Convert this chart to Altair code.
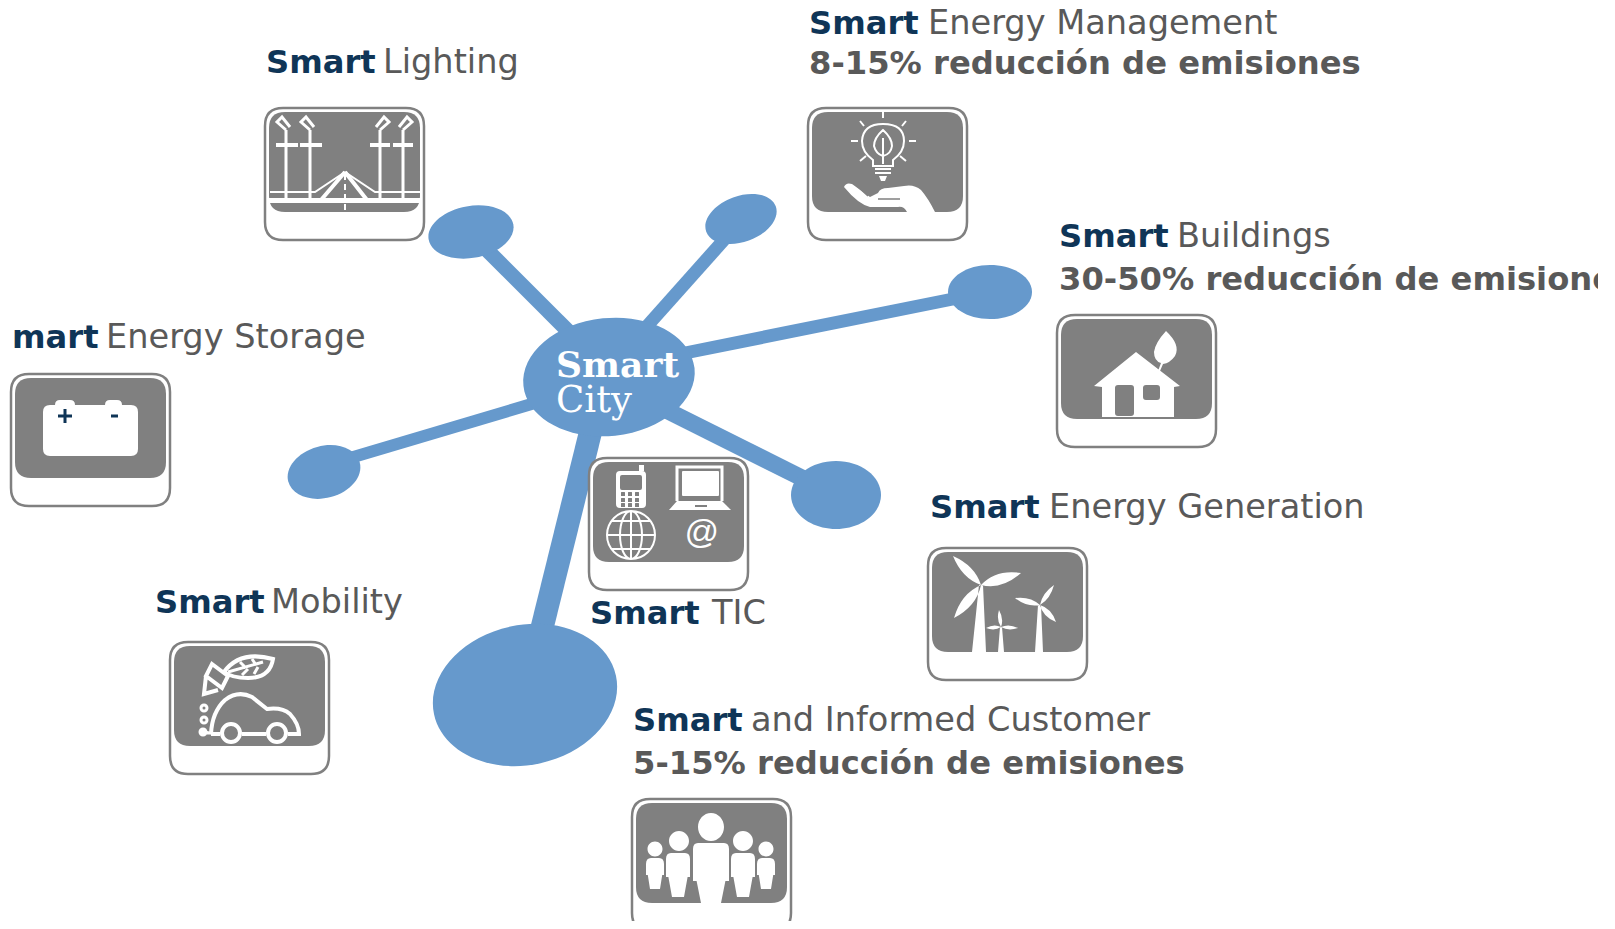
import altair as alt
import pandas as pd

BLUE = "#6699CC"
GRAY = "#808080"
NAVY = "#0F3557"
TEXT = "#595959"

# ---------- content ----------
bold_labels = ["Smart", "Smart", "Smart", "mart", "Smart", "Smart", "Smart", "Smart"]
bold_x = [266, 809, 1059, 12, 155, 930, 590, 633]
bold_y = [73, 34, 247, 348, 613, 518, 624, 731]

plain_labels = ["Lighting", "Energy Management", "Buildings", "Energy Storage",
                "Mobility", "Energy Generation", "TIC", "and Informed Customer"]
plain_x = [383, 928, 1177, 106, 271, 1049, 712, 751]

note_labels = ["8-15% reducción de emisiones", "30-50% reducción de emisiones",
               "5-15% reducción de emisiones"]
note_x = [809, 1059, 633]
note_y = [74, 290, 774]

hub_x, hub_y, hub_rx, hub_ry, hub_tilt = [609], [377], [86], [59], [354]
node_x = [471, 741, 990, 836, 525, 324]
node_y = [232, 219, 292, 495, 695, 472]
node_rx = [43, 37, 42, 45, 93, 37]
node_ry = [26, 23, 27, 34, 70, 26]
node_tilt = [350, 340, 0, 0, 348, 345]

spoke_x1 = [484, 731, 953, 814, 539, 350]
spoke_y1 = [247, 232, 299, 484, 640, 458]
spoke_x2 = [585, 640, 680, 650, 594, 545]
spoke_y2 = [348, 334, 354, 402, 418, 400]
spoke_w = [15, 13, 13, 17, 23, 12]

card_names = ["lighting", "management", "buildings", "storage", "tic", "generation", "mobility", "customer"]
card_x = [265, 808, 1057, 11, 589, 928, 170, 632]
card_y = [108, 108, 315, 374, 458, 548, 642, 799]


# ---------- glyph helpers (local px inside a 159x132 card) ----------
def rrect(x0, y0, x1, y1, r):
    return (f"M{x0+r},{y0}L{x1-r},{y0}Q{x1},{y0} {x1},{y0+r}L{x1},{y1-r}Q{x1},{y1} {x1-r},{y1}"
            f"L{x0+r},{y1}Q{x0},{y1} {x0},{y1-r}L{x0},{y0+r}Q{x0},{y0} {x0+r},{y0}Z")


def ell(cx, cy, rx, ry=None):
    ry = rx if ry is None else ry
    return f"M{cx-rx},{cy}A{rx},{ry} 0 1 1 {cx+rx},{cy}A{rx},{ry} 0 1 1 {cx-rx},{cy}Z"


def blade(hx, hy, tx, ty, w):
    mx, my = hx * .55 + tx * .45, hy * .55 + ty * .45
    dx, dy = tx - hx, ty - hy
    n = (dx * dx + dy * dy) ** .5
    px, py = -dy / n * w, dx / n * w
    return f"M{hx},{hy}Q{mx+px:.1f},{my+py:.1f} {tx},{ty}Q{mx-px:.1f},{my-py:.1f} {hx},{hy}Z"


def person(cx, top, half, bottom, leg):
    mid = top + (bottom - top) * .55
    return (f"M{cx-half+5},{top}L{cx+half-5},{top}Q{cx+half},{top} {cx+half},{top+6}L{cx+half},{mid:.0f}"
            f"L{cx+half*.8:.1f},{mid:.0f}L{cx+leg},{bottom}L{cx-leg},{bottom}"
            f"L{cx-half*.8:.1f},{mid:.0f}L{cx-half},{mid:.0f}L{cx-half},{top+6}"
            f"Q{cx-half},{top} {cx-half+5},{top}Z")


card_outline = rrect(0, 0, 159, 132, 18)
card_panel = rrect(4, 4, 155, 104, 16)

white_fill = {
    "lighting": "M2,90L156,90L156,95L2,95Z",
    "management": ("M36,79Q38,74 44,76L62,89L70,85Q72,80 80,80L96,78Q106,76 113,82Q120,90 127,104"
                   "L99,104Q96,98 90,99L62,99Q50,96 36,79Z"
                   "M67,60L83,60L83,62L67,62Z M67,64L83,64L83,66L67,66Z M71,68L79,68L77,73L73,73Z"),
    "buildings": ("M79,37L123,71L117,72L117,102L45,102L45,72L37,71Z"
                  "M109,16Q124,30 118,41Q113,48 106,49L103,56L101,56L104,48Q97,46 97,37Q98,28 109,16Z"),
    "storage": rrect(32, 31, 127, 82, 7) + rrect(44, 26, 64, 36, 5) + rrect(94, 26, 111, 36, 5),
    "tic": (rrect(27, 13, 57, 50, 4) + "M50,13L50,7L55,7L55,13Z"
            + "M80,52L88,43L133,43L142,52Z" + rrect(93, 13, 130, 38, 1)),
    "generation": (blade(53, 37, 25, 8, 9) + blade(53, 37, 93, 25, 11) + blade(53, 37, 26, 70, 10)
                   + "M51,37L55,37L58,104L44,104Z"
                   + blade(112, 57, 87, 50, 6) + blade(112, 57, 126, 37, 5) + blade(112, 57, 128, 74, 6)
                   + "M110,57L113,57L115,104L107,104Z"
                   + blade(73, 79, 71, 62, 4) + blade(73, 79, 58, 80, 4) + blade(73, 79, 90, 80, 4)
                   + "M72,79L74,79L76,104L70,104Z"),
    "mobility": ell(33, 90, 4.5) + "M33,88L46,91L46,93L33,92Z",
    "customer": (ell(79, 28, 13, 14) + ell(47, 42, 10) + ell(111, 42, 10) + ell(23, 50, 7.5) + ell(134, 50, 7.5)
                 + person(79, 44, 18, 114, 8) + person(46, 54, 12, 98, 6) + person(111, 54, 12, 98, 6)
                 + person(23, 59, 9, 90, 5) + person(134, 59, 9, 90, 5)),
}

gray_fill = {
    "buildings": rrect(58, 70, 77, 101, 3) + rrect(86, 70, 103, 85, 3),
    "tic": (rrect(31, 17, 53, 32, 2)
            + "".join(rrect(x, y, x + 4, y + 4, .5) for x in (32, 39, 46) for y in (34, 40, 45))
            + "M106,47L118,47L118,49L106,49Z"),
}

thick_stroke = {
    "lighting": "M11,37L33,37M35,37L57,37M105,37L125,37M128,37L148,37M80,64L56,92M80,64L102,92",
    "mobility": ("M41,92Q42,70 55,58Q68,48 82,55L97,67Q112,65 120,72Q129,82 129,92L118,92M96,92L72,92M50,92L41,92"
                 + ell(61, 91, 9) + ell(107, 91, 9)
                 + "M54,30Q70,8 103,17Q100,36 78,36Q62,36 54,30ZM42,22L58,34L52,46L36,34ZM36,34L34,52L48,48"),
}

white_stroke = {
    "lighting": ("M21,22L21,90M45,22L45,90M115,22L115,90M138,22L138,90"
                 "M21,22L12,14L17,9L25,19M45,22L36,14L41,9L49,19M115,22L124,14L119,9L111,19M138,22L147,14L142,9L134,19"),
    "mobility": "M58,30L93,20M70,20L76,26M82,17L86,23M72,33L78,27M84,32L88,25" + ell(34, 66, 3) + ell(34, 78, 3),
    "tic": "M88,43L88,9L133,9L133,43",
}

thin_stroke = {
    "lighting": "M80,64L50,84L5,84M80,64L110,84L155,84",
    "management": ("M75,4L75,10M52,13L56,18M98,13L94,18M43,33L50,33M101,33L108,33M52,53L58,48M98,53L92,48"
                   "M65,58L65,52Q54,44 54,33Q55,16 75,16Q96,16 96,33Q96,44 85,52L85,58Z"
                   "M75,22Q66,30 66,38Q68,46 75,48Q83,46 84,38Q84,30 75,22ZM75,30L75,56"),
    "tic": (ell(42, 77, 24) + ell(42, 77, 11, 24) + "M42,53L42,101M18,77L66,77M23,63L61,63M23,91L61,91"),
}

dash_stroke = {"lighting": "M80,66L80,103"}
slit_stroke = {"management": "M48,77L60,88M70,91L92,91"}
navy_stroke = {"storage": "M47,42L61,42M54,35L54,49M100,42L107,42"}
flat = lambda d: pd.DataFrame({
    "x": [card_x[card_names.index(k)] for k in d],
    "y": [card_y[card_names.index(k)] for k in d],
    "path": list(d.values()),
})

X = alt.X("x:Q", scale=alt.Scale(domain=[8, 1607], nice=False, zero=False), axis=None)
Y = alt.Y("y:Q", scale=alt.Scale(domain=[921, 8], nice=False, zero=False), axis=None)
SHAPE = alt.Shape("path:N", scale=None, legend=None)


def glyphs(d, color, filled=True, width=0, dash=None):
    kw = dict(filled=filled, size=4, opacity=1)
    if filled:
        kw["fill"] = color
        kw["strokeWidth"] = 0
    else:
        kw["stroke"] = color
        kw["strokeWidth"] = width
        kw["fill"] = "transparent"
        if dash:
            kw["strokeDash"] = dash
    return alt.Chart(flat(d)).mark_point(**kw).encode(x=X, y=Y, shape=SHAPE)


def label(xs, ys, texts, color, font, size, weight="normal", style="normal"):
    df = pd.DataFrame({"x": xs, "y": ys, "t": texts})
    return alt.Chart(df).mark_text(align="left", baseline="alphabetic", font=font, fontSize=size,
                                   fontWeight=weight, fontStyle=style, color=color).encode(x=X, y=Y, text="t:N")


spokes = alt.Chart(pd.DataFrame({"x": spoke_x1, "y": spoke_y1, "x2": spoke_x2, "y2": spoke_y2, "w": spoke_w})).mark_rule(
    color=BLUE).encode(x=X, y=Y, x2="x2:Q", y2="y2:Q", strokeWidth=alt.StrokeWidth("w:Q", scale=None, legend=None))


def blobs(xs, ys, rxs, rys, tilts):
    df = pd.DataFrame({"x": xs, "y": ys, "a": tilts,
                       "path": [ell(0, 0, a, b) for a, b in zip(rxs, rys)]})
    return alt.Chart(df).mark_point(filled=True, size=4, opacity=1, fill=BLUE, strokeWidth=0).encode(
        x=X, y=Y, shape=SHAPE, angle=alt.Angle("a:Q", scale=None))


cards = pd.DataFrame({"x": card_x, "y": card_y, "outline": [card_outline] * 8, "panel": [card_panel] * 8})
card_back = alt.Chart(cards).mark_point(filled=False, size=4, opacity=1, fill="white", stroke=GRAY, strokeWidth=2.5).encode(
    x=X, y=Y, shape=alt.Shape("outline:N", scale=None, legend=None))
card_front = alt.Chart(cards).mark_point(filled=True, size=4, opacity=1, fill=GRAY, strokeWidth=0).encode(
    x=X, y=Y, shape=alt.Shape("panel:N", scale=None, legend=None))

edge_mask = alt.Chart(pd.DataFrame({"x": [1598], "x2": [1607], "y": [250], "y2": [300]})).mark_rect(color="white").encode(
    x=X, x2="x2:Q", y=Y, y2="y2:Q")

chart = alt.layer(
    spokes,
    blobs(node_x, node_y, node_rx, node_ry, node_tilt),
    blobs(hub_x, hub_y, hub_rx, hub_ry, hub_tilt),
    card_back, card_front,
    glyphs(white_fill, "white"),
    glyphs(gray_fill, GRAY),
    glyphs(thick_stroke, "white", filled=False, width=4),
    glyphs(white_stroke, "white", filled=False, width=3),
    glyphs(thin_stroke, "white", filled=False, width=2),
    glyphs(dash_stroke, "white", filled=False, width=2, dash=[6, 4]),
    glyphs(slit_stroke, GRAY, filled=False, width=1.5),
    glyphs(navy_stroke, NAVY, filled=False, width=3),
    label([684], [543], ["@"], "white", "Liberation Sans", 34, style="italic"),
    label(bold_x, bold_y, bold_labels, NAVY, "DejaVu Sans", 32.2, "bold"),
    label(plain_x, bold_y, plain_labels, TEXT, "DejaVu Sans", 33.6),
    label(note_x, note_y, note_labels, TEXT, "DejaVu Sans", 32.2, "bold"),
    label([556], [377], ["Smart"], "white", "DejaVu Serif", 36, "bold"),
    label([556], [412], ["City"], "white", "DejaVu Serif", 37),
    edge_mask,
).properties(
    width=1599, height=913, padding=0, background="white",
    autosize=alt.AutoSizeParams(type="none"),
).configure_view(stroke=None)

chart.save("out.html", embed_options={"renderer": "svg", "actions": False})
